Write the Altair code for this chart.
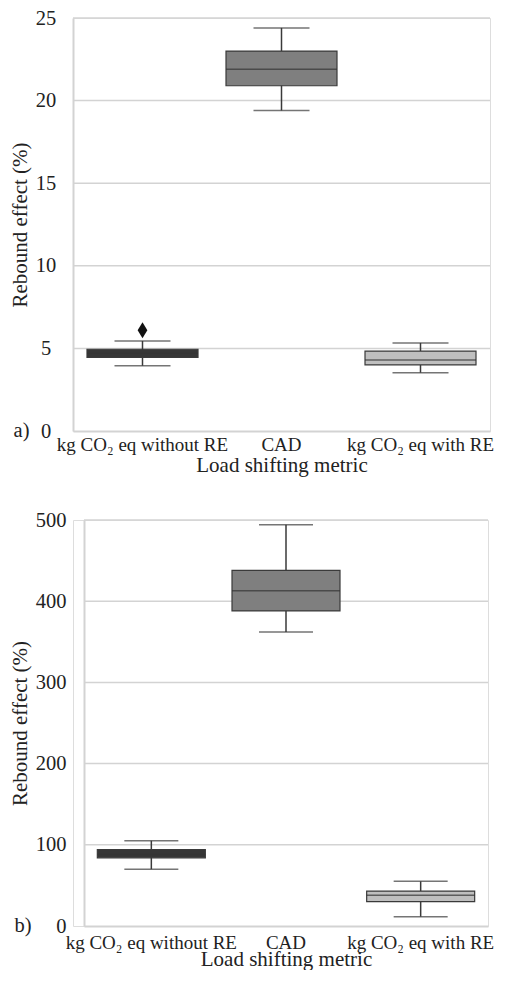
import altair as alt
import pandas as pd

categories = ["kg CO₂ eq without RE", "CAD", "kg CO₂ eq with RE"]
colors = ["#363636", "#7f7f7f", "#bfbfbf"]

a_min = [3.95, 19.4, 3.53]
a_q1 = [4.45, 20.9, 4.0]
a_med = [4.7, 21.9, 4.3]
a_q3 = [4.95, 23.0, 4.84]
a_max = [5.45, 24.4, 5.33]
a_out_cat = ["kg CO₂ eq without RE"]
a_out_val = [6.1]
a_ticks = [0, 5, 10, 15, 20, 25]

b_min = [70, 362, 11.5]
b_q1 = [84, 388, 30]
b_med = [88, 413, 38]
b_q3 = [94, 438, 43]
b_max = [105, 494, 55]
b_ticks = [0, 100, 200, 300, 400, 500]

FONT = "Liberation Serif"
GRID = "#d3d3d3"
EDGE = "#3a3a3a"
TXT = "#222222"


def panel(mins, q1, med, q3, maxs, ticks, w, h, x0, tag, tag_x,
          lab_align, lab_pad, x_pad, x_tpad, cap, box_w, out_cat=None, out_val=None):
    df = pd.DataFrame({"cat": categories, "lo": mins, "q1": q1, "med": med,
                       "q3": q3, "hi": maxs, "col": colors})
    xscale = alt.Scale(domain=categories, range=[x0, w], paddingInner=0, paddingOuter=0)
    xaxis = alt.Axis(title="Load shifting metric", labelAngle=0,
                     ticks=False, tickSize=0, domain=True,
                     domainColor=GRID, domainWidth=2,
                     labelFont=FONT, labelFontSize=19,
                     labelColor=TXT, titleFont=FONT,
                     titleFontSize=21, titleFontWeight="normal",
                     titleColor=TXT, labelPadding=x_pad,
                     titlePadding=x_tpad, labelOverlap=False,
                     labelLimit=0)
    xenc = alt.X("cat:N", sort=categories, scale=xscale, axis=xaxis)
    yscale = alt.Scale(domain=[0, ticks[-1]], nice=False)
    yaxis = alt.Axis(title="Rebound effect (%)", values=ticks, offset=-x0,
                     grid=False, ticks=False,
                     tickSize=0, domain=True, domainColor=GRID, domainWidth=2,
                     labelFont=FONT, labelFontSize=20.5, labelColor=TXT,
                     labelAlign=lab_align, labelPadding=lab_pad,
                     titleFont=FONT, titleFontSize=21, titleFontWeight="normal",
                     titleColor=TXT, titlePadding=5)
    gdf = pd.DataFrame({"v": ticks[1:]})
    grid = alt.Chart(gdf).mark_rule(color=GRID, strokeWidth=1.5).encode(
        y=alt.Y("v:Q", scale=yscale, axis=yaxis),
        x=alt.value(x0), x2=alt.value(w))
    base = alt.Chart(df).encode(x=xenc)
    whisk = base.mark_rule(color=EDGE, strokeWidth=1.5).encode(
        y=alt.Y("lo:Q", scale=yscale, axis=yaxis), y2="hi:Q")
    caps_lo = base.mark_tick(color=EDGE, size=cap, thickness=1.5).encode(
        y=alt.Y("lo:Q", scale=yscale, axis=yaxis))
    caps_hi = base.mark_tick(color=EDGE, size=cap, thickness=1.5).encode(
        y=alt.Y("hi:Q", scale=yscale, axis=yaxis))
    box = base.mark_bar(size=box_w, stroke=EDGE, strokeWidth=1.2).encode(
        y=alt.Y("q1:Q", scale=yscale, axis=yaxis), y2="q3:Q",
        color=alt.Color("col:N", scale=None))
    medl = base.mark_tick(color="#333", size=box_w, thickness=1.5).encode(
        y=alt.Y("med:Q", scale=yscale, axis=yaxis))
    layers = [grid, whisk, caps_lo, caps_hi, box, medl]
    if out_cat:
        odf = pd.DataFrame({"cat": out_cat, "v": out_val})
        outl = alt.Chart(odf).mark_point(
            shape="M0,-1.4L0.85,0L0,1.4L-0.85,0Z", filled=True, size=130,
            color="#111", opacity=1).encode(
            x=alt.X("cat:N", sort=categories, scale=xscale, axis=xaxis),
            y=alt.Y("v:Q", scale=yscale, axis=yaxis))
        layers.append(outl)
    tagc = alt.Chart(pd.DataFrame({"t": [tag]})).mark_text(
        font=FONT, fontSize=20.5, color=TXT, align="center", baseline="middle").encode(
        text="t:N", x=alt.value(tag_x), y=alt.value(h))
    layers.append(tagc)
    return alt.layer(*layers).properties(width=w, height=h)


top = panel(a_min, a_q1, a_med, a_q3, a_max, a_ticks, 417, 413, 0, "a)", -51.5,
            "center", 27.5, 4, 0, 56, 111, a_out_cat, a_out_val)
bot = panel(b_min, b_q1, b_med, b_q3, b_max, b_ticks, 415, 406, 11, "b)", -50,
            "right", 18, 7, -4, 54, 108)

chart = alt.vconcat(top, bot, spacing=33).properties(
    padding={"left": 0, "top": -1, "right": 0, "bottom": 0}
).configure_view(stroke=None).configure(background="white")

chart.save("out.html", embed_options={"renderer": "svg", "actions": False})
